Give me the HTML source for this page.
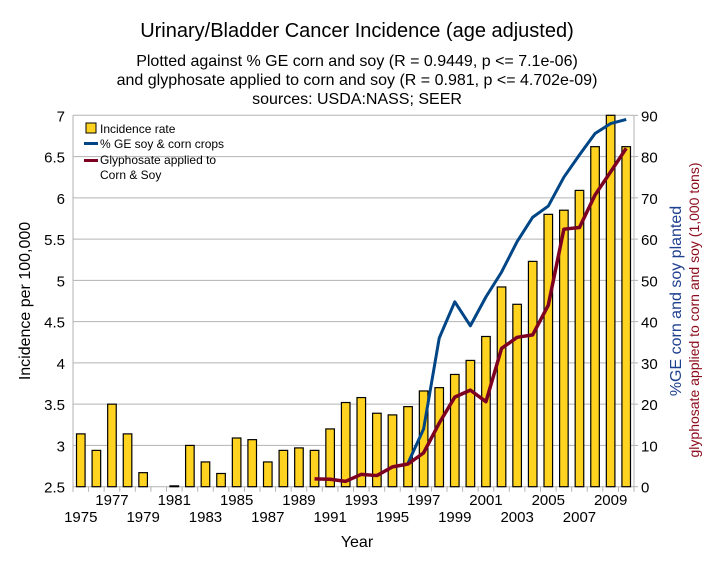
<!DOCTYPE html>
<html><head><meta charset="utf-8"><style>
html,body{margin:0;padding:0;background:#fff}
svg{display:block;font-family:"Liberation Sans",sans-serif}
</style></head><body>
<svg id="chart" width="714" height="577" viewBox="0 0 714 577">
<rect width="714" height="577" fill="#fff"/>
<text x="357" y="37" font-size="20" text-anchor="middle" fill="#000">Urinary/Bladder Cancer Incidence (age adjusted)</text>
<text x="357" y="66" font-size="16" text-anchor="middle">Plotted against % GE corn and soy (R = 0.9449, p &lt;= 7.1e-06)</text>
<text x="357" y="85" font-size="16" text-anchor="middle">and glyphosate applied to corn and soy (R = 0.981, p &lt;= 4.702e-09)</text>
<text x="357" y="104" font-size="16" text-anchor="middle">sources: USDA:NASS; SEER</text>
<g id="grid"></g>
<g id="bars"></g>
<g id="lines"></g>
<g id="axes"></g>
<text x="357" y="547" font-size="16" text-anchor="middle">Year</text>
<text transform="translate(30,301) rotate(-90)" font-size="16" text-anchor="middle">Incidence per 100,000</text>
<text transform="translate(681,301) rotate(-90)" font-size="16" text-anchor="middle" fill="#1f3f8f">%GE corn and soy planted</text>
<text transform="translate(699,310) rotate(-90)" font-size="14" text-anchor="middle" fill="#8b0a1a">glyphosate applied to corn and soy (1,000 tons)</text>
<g>
<rect x="86" y="123" width="10" height="10" fill="#ffd320" stroke="#000" stroke-width="1"/>
<text x="100" y="133" font-size="12">Incidence rate</text>
<rect x="84" y="142" width="14" height="3" fill="#004586"/>
<text x="100" y="148" font-size="12">% GE soy &amp; corn crops</text>
<rect x="84" y="159" width="14" height="3" fill="#7e0021"/>
<text x="100" y="164" font-size="12">Glyphosate applied to</text>
<text x="100" y="179" font-size="12">Corn &amp; Soy</text>
</g>
</svg>
<script>
const years = [1975,1976,1977,1978,1979,1980,1981,1982,1983,1984,1985,1986,1987,1988,1989,1990,1991,1992,1993,1994,1995,1996,1997,1998,1999,2000,2001,2002,2003,2004,2005,2006,2007,2008,2009,2010];
const incidence = [3.14,2.94,3.5,3.14,2.67,null,2.51,3.0,2.8,2.66,3.09,3.07,2.8,2.94,2.97,2.94,3.2,3.52,3.58,3.39,3.37,3.47,3.66,3.7,3.86,4.03,4.32,4.92,4.71,5.23,5.8,5.85,6.09,6.62,7.0,6.62];
const geYears = [1996,1997,1998,1999,2000,2001,2002,2003,2004,2005,2006,2007,2008,2009,2010];
const gePct = [5.7,14,36,44.8,39,46,52,59.4,65.3,68,75,80.4,85.6,88,89];
const glyYears = [1990,1991,1992,1993,1994,1995,1996,1997,1998,1999,2000,2001,2002,2003,2004,2005,2006,2007,2008,2009,2010];
const glyTons = [1.9,1.8,1.3,3,2.7,4.8,5.5,8.2,15.4,21.7,23.4,20.6,33.5,36.2,36.8,44,62.4,62.8,70.7,76.3,82];
const leftTicks = [2.5,3,3.5,4,4.5,5,5.5,6,6.5,7];
const rightTicks = [0,10,20,30,40,50,60,70,80,90];

const NS='http://www.w3.org/2000/svg';
const X0=73,X1=634,Y0=486.7,Y1=115.3;
const slot=(X1-X0)/years.length;
const xc=y=>X0+slot*(years.indexOf(y)+0.5);
const yL=v=>Y0-(v-2.5)/4.5*(Y0-Y1);
const yR=v=>Y0-v/90*(Y0-Y1);
function mk(tag,attrs,parent){const e=document.createElementNS(NS,tag);for(const k in attrs)e.setAttribute(k,attrs[k]);document.getElementById(parent).appendChild(e);return e;}

leftTicks.forEach((t,i)=>{
  const g=mk('line',{x1:X0,x2:X1,y1:yL(t),y2:yL(t),stroke:'#b3b3b3','stroke-width':1},'grid');
  
  
  const tx=mk('text',{x:X0-8,y:yL(t)+6,'font-size':15,'text-anchor':'end'},'axes');
  tx.textContent=String(t);
  
  
});
rightTicks.forEach(t=>{
  const tx=mk('text',{x:X1+7,y:yR(t)+6,'font-size':15},'axes');
  tx.textContent=String(t);
  
  
  const tk=mk('line',{x1:X1,x2:X1+4,y1:yR(t),y2:yR(t),stroke:'#b3b3b3'},'axes');
  
  
});
[['y-axis-line',X0],['y2-axis-line',X1]].forEach(([n,x])=>{
  const l=mk('line',{x1:x,x2:x,y1:Y1,y2:Y0+5,stroke:'#b3b3b3'},'axes');
  
  
});
years.forEach((yr,i)=>{
  const tk=mk('line',{x1:X0+slot*i,x2:X0+slot*i,y1:Y0,y2:Y0+5,stroke:'#b3b3b3'},'axes');
  
  
  if(yr%2===1){
    const row=((yr-1975)/2)%2===0?522:505;
    const tx=mk('text',{x:xc(yr),y:row,'font-size':15,'text-anchor':'middle'},'axes');
    tx.textContent=String(yr);
    
    
  }
  const v=incidence[i];
  if(v!==null){
    const bw=slot*0.55;
    const top=yL(v);
    const r=mk('rect',{x:xc(yr)-bw/2,y:top,width:bw,height:Math.max(Y0-top,0.5),fill:'#ffd320',stroke:'#000','stroke-width':1.2},'bars');
    
    
  }
});
const gePts=geYears.map((y,i)=>xc(y)+','+yR(gePct[i])).join(' ');
const l1=mk('polyline',{points:gePts,fill:'none',stroke:'#004586','stroke-width':3,'stroke-linejoin':'round'},'lines');


const glyPts=glyYears.map((y,i)=>xc(y)+','+yR(glyTons[i])).join(' ');
const l2=mk('polyline',{points:glyPts,fill:'none',stroke:'#7e0021','stroke-width':3.5,'stroke-linejoin':'round'},'lines');


</script>
</body></html>
